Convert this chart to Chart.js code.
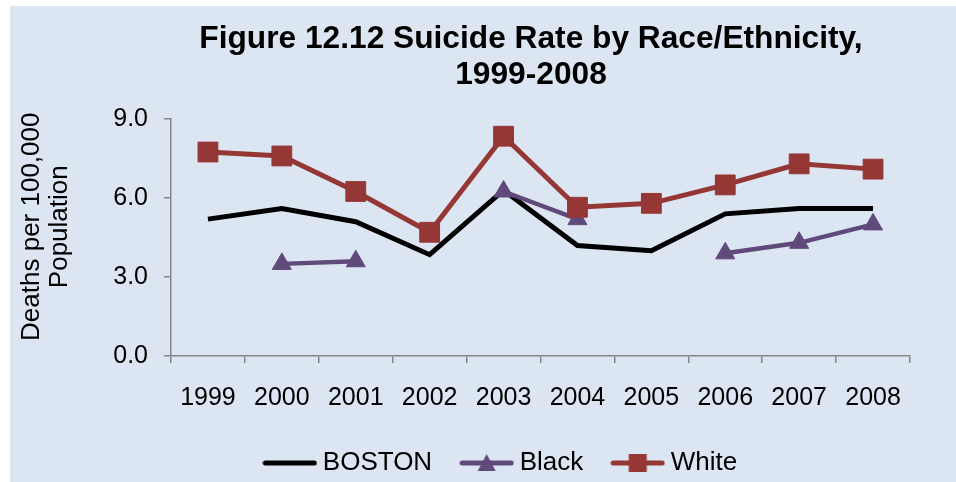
<!DOCTYPE html>
<html>
<head>
<meta charset="utf-8">
<script src="https://cdn.jsdelivr.net/npm/chart.js@4.4.1/dist/chart.umd.min.js"></script>
<style>
  html, body { margin: 0; padding: 0; background: #ffffff; }
  #wrap { position: absolute; left: 10px; top: 6px; width: 946px; height: 476px; background: #dce6f2; }
</style>
</head>
<body>
<div id="wrap"><canvas id="c"></canvas></div>
<script>
const years = ['1999', '2000', '2001', '2002', '2003', '2004', '2005', '2006', '2007', '2008'];
const bostonRate = [5.2, 5.6, 5.1, 3.85, 6.3, 4.2, 4.0, 5.4, 5.6, 5.6];
const blackRate = [null, 3.5, 3.6, null, 6.25, 5.2, null, 3.9, 4.3, 5.0];
const whiteRate = [7.75, 7.6, 6.25, 4.7, 8.35, 5.65, 5.8, 6.5, 7.3, 7.1];
const seriesNames = ['BOSTON', 'Black', 'White'];
const yTicks = [0, 3, 6, 9];

const FONT = "'Liberation Sans', Arial, sans-serif";
const C_BOSTON = '#000000';
const C_BLACK = '#604a7b';
const C_WHITE = '#953735';

function legendImage(color, width, marker) {
  const cv = document.createElement('canvas');
  cv.width = 55; cv.height = 24;
  const g = cv.getContext('2d');
  g.strokeStyle = color; g.lineWidth = width; g.lineCap = 'round';
  g.beginPath(); g.moveTo(3, 12); g.lineTo(52, 12); g.stroke();
  g.fillStyle = color;
  if (marker === 'triangle') {
    g.beginPath(); g.moveTo(27.5, 3); g.lineTo(36.5, 20); g.lineTo(18.5, 20); g.closePath(); g.fill();
  } else if (marker === 'rect') {
    g.fillRect(18.5, 3, 18, 18);
  }
  return cv;
}
const legendImgs = [
  legendImage(C_BOSTON, 5, null),
  legendImage(C_BLACK, 5, 'triangle'),
  legendImage(C_WHITE, 5, 'rect')
];

const shiftPlugin = {
  id: 'shiftBlocks',
  afterLayout(chart) {
    const t = chart.titleBlock;
    if (t) { t.left += 71; t.right += 71; }
    const l = chart.legend;
    if (l) { l.left += 43.5; l.right += 43.5; l.top += 4; l.bottom += 4; }
  }
};

new Chart(document.getElementById('c'), {
  type: 'line',
  data: {
    labels: years,
    datasets: [
      { label: seriesNames[0], data: bostonRate, borderColor: C_BOSTON, backgroundColor: C_BOSTON,
        borderWidth: 5, pointRadius: 0, pointHoverRadius: 0, spanGaps: false, order: 3 },
      { label: seriesNames[1], data: blackRate, borderColor: C_BLACK, backgroundColor: C_BLACK,
        borderWidth: 4.5, pointStyle: 'triangle', pointRadius: 11, pointHoverRadius: 11,
        pointBackgroundColor: C_BLACK, pointBorderColor: C_BLACK, pointBorderWidth: 1, spanGaps: false, order: 2 },
      { label: seriesNames[2], data: whiteRate, borderColor: C_WHITE, backgroundColor: C_WHITE,
        borderWidth: 5, pointStyle: 'rect', pointRadius: 14, pointHoverRadius: 14,
        pointBackgroundColor: C_WHITE, pointBorderColor: C_WHITE, pointBorderWidth: 1, spanGaps: false, order: 1 }
    ]
  },
  options: {
    responsive: true,
    maintainAspectRatio: false,
    animation: false,
    layout: { padding: { left: 0, right: 46, top: 0, bottom: 0 } },
    plugins: {
      tooltip: { enabled: false },
      title: {
        display: true,
        text: ['Figure 12.12 Suicide Rate by Race/Ethnicity,', '1999-2008'],
        color: '#000000',
        font: { family: FONT, size: 31.7, weight: 'bold', lineHeight: 1.15 },
        padding: { top: 15, bottom: 25.2 }
      },
      legend: {
        display: true,
        position: 'bottom',
        labels: {
          color: '#000000',
          font: { family: FONT, size: 26 },
          usePointStyle: true,
          pointStyleWidth: 40,
          padding: 34.5,
          generateLabels: (chart) => seriesNames.map((name, i) => ({
            text: name,
            pointStyle: legendImgs[i],
            fillStyle: 'rgba(0,0,0,0)',
            strokeStyle: 'rgba(0,0,0,0)',
            lineWidth: 0,
            hidden: false,
            datasetIndex: i,
            fontColor: '#000000'
          }))
        }
      }
    },
    scales: {
      x: {
        type: 'category',
        offset: true,
        grid: { display: true, offset: true, drawOnChartArea: false, drawTicks: true, tickLength: 7, color: '#868686', lineWidth: 1.5 },
        border: { display: true, color: '#868686', width: 1.5 },
        ticks: { color: '#000000', font: { family: FONT, size: 25, lineHeight: 1.2 }, padding: 20, maxRotation: 0, autoSkip: false },
        afterFit(scale) { scale.height = 55.5; }
      },
      y: {
        min: 0, max: 9,
        afterBuildTicks(scale) { scale.ticks = yTicks.map(v => ({ value: v })); },
        grid: { display: true, drawOnChartArea: false, drawTicks: true, tickLength: 7, color: '#868686', lineWidth: 1.5 },
        border: { display: true, color: '#868686', width: 1.5 },
        ticks: { color: '#000000', font: { family: FONT, size: 25 }, padding: 16, callback: (v) => Number(v).toFixed(1) },
        title: {
          display: true,
          text: ['   Deaths per 100,000', '   Population'],
          color: '#000000',
          font: { family: FONT, size: 26, lineHeight: 1.08 },
          padding: { top: 8, bottom: 0 }
        },
        afterFit(scale) { scale.width = 161; }
      }
    }
  },
  plugins: [shiftPlugin]
});
</script>
</body>
</html>
